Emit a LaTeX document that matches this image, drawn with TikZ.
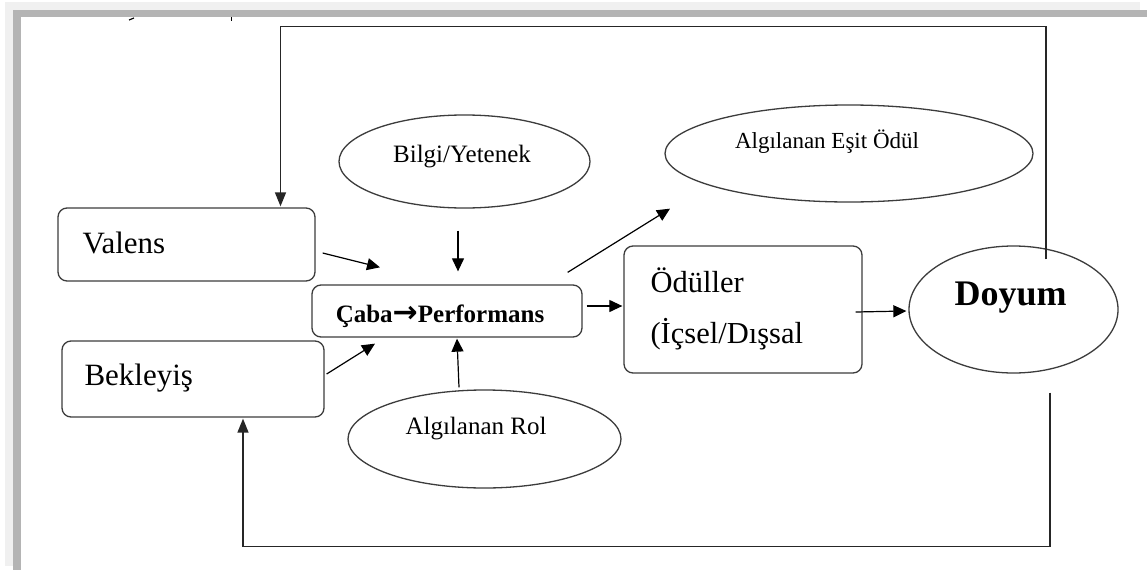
\documentclass[tikz,border=0pt]{standalone}
\usepackage{fontspec}
\setmainfont{Liberation Serif}
\newfontfamily\arrowfont{DejaVu Sans}
\usetikzlibrary{shapes.geometric, arrows.meta}
\definecolor{frame-light}{HTML}{F0F0F0}
\definecolor{frame-dark}{HTML}{B4B4B4}
\definecolor{edge-gray}{HTML}{3C3C3C}
\newcommand{\fsize}[1]{\fontsize{#1}{#1}\selectfont}

\begin{document}
\begin{tikzpicture}[x=1pt, y=-1pt,
    box/.style={draw=edge-gray, line width=1.3pt, rounded corners=9pt, inner sep=0pt},
    oval/.style={draw=edge-gray, line width=1.3pt, ellipse, inner sep=0pt},
    arr/.style={line width=1.2pt, -{Triangle[length=13pt, width=12pt]}},
    feedback/.style={line width=1.4pt, draw=black!85, -{Triangle[length=14pt, width=11pt]}}]
  \useasboundingbox (0,0) rectangle (1147,570);
  % window frame
  \fill[frame-light] (5,2) rectangle (1140,566);
  \fill[frame-dark] (13,10) rectangle (1147,570);
  \fill[white] (21,17) rectangle (1147,570);
  \draw[line width=1.2pt] (129,20) -- (134,18);
  \draw[line width=1pt] (231,17) -- (231,21);

  % shapes
  \node[box, minimum width=257pt, minimum height=73pt] (valens) at (186.5,244.5) {};
  \node[box, minimum width=262pt, minimum height=76pt] (bekleyis) at (193,379) {};
  \node[box, minimum width=270pt, minimum height=52pt] (caba) at (447,311) {};
  \node[box, minimum width=238pt, minimum height=127pt] (oduller) at (743,309.5) {};
  \node[oval, minimum width=251pt, minimum height=93pt] (bilgi) at (464.5,161.5) {};
  \node[oval, minimum width=273pt, minimum height=98pt] (rol) at (484.5,439) {};
  \node[oval, minimum width=368pt, minimum height=97pt] (esit) at (849,153.5) {};
  \node[oval, minimum width=209pt, minimum height=127pt] (doyum) at (1013.5,309.5) {};

  % labels
  \node[anchor=base west, inner sep=0pt, font=\fsize{31}] (valens-txt)
        at ([shift={(25,8.5)}]valens.west) {Valens};
  \node[anchor=base west, inner sep=0pt, font=\fsize{31}] (bekleyis-txt)
        at ([shift={(23,6)}]bekleyis.west) {Bekleyiş};
  \node[anchor=base, inner sep=0pt, font=\fsize{25}\bfseries] (caba-txt)
        at ([shift={(-7,11)}]caba.center)
        {Çaba{\arrowfont\bfseries\fsize{30}→}Performans};
  \node[anchor=base, inner sep=0pt, font=\fsize{25}] (bilgi-txt)
        at ([shift={(-2.5,0.5)}]bilgi.center) {Bilgi/Yetenek};
  \node[anchor=base, inner sep=0pt, font=\fsize{25}] (rol-txt)
        at ([shift={(-8.5,-5)}]rol.center) {Algılanan Rol};
  \node[anchor=base, inner sep=0pt, font=\fsize{23}] (esit-txt)
        at ([shift={(-22,-5.5)}]esit.center) {Algılanan Eşit Ödül};
  \node[anchor=base west, inner sep=0pt, font=\fsize{30.5}] (oduller-txt)
        at ([shift={(27,-17.5)}]oduller.west) {Ödüller};
  \node[anchor=base west, inner sep=0pt, font=\fsize{30.5}] (icsel-txt)
        at ([shift={(27,33.5)}]oduller.west) {(İçsel/Dışsal};
  \node[anchor=base, inner sep=0pt, font=\fsize{36}\bfseries] (doyum-txt)
        at ([shift={(-3,-4.5)}]doyum.center) {Doyum};

  % arrows
  \draw[arr] ([shift={(7,8.5)}]valens.east) -- ([shift={(-67,-17)}]caba.north);
  \draw[arr] ([shift={(2,-5)}]bekleyis.east) -- ([shift={(-72,6)}]caba.south);
  \draw[arr] ([shift={(-6.5,22)}]bilgi.south) -- ([shift={(11,-13)}]caba.north);
  \draw[arr] ([shift={(-25.5,-2)}]rol.north) -- ([shift={(10,1)}]caba.south);
  \draw[arr] ([shift={(-15,-12)}]caba.north east) -- ([shift={(-179,6)}]esit.south);
  \draw[arr] ([shift={(4,-5)}]caba.east) -- ([shift={(-1,-3.5)}]oduller.west);
  \draw[arr] ([shift={(-7,2.5)}]oduller.east) -- ([shift={(-2,1.5)}]doyum.west);

  % feedback lines
  \draw[feedback] ([shift={(32.5,14)}]doyum.north) -- ++(0,-233)
        -| ([shift={(94,-1)}]valens.north);
  \draw[feedback] ([shift={(36.5,19)}]doyum.south) -- ++(0,154)
        -| ([shift={(50,1)}]bekleyis.south);
\end{tikzpicture}
\end{document}
